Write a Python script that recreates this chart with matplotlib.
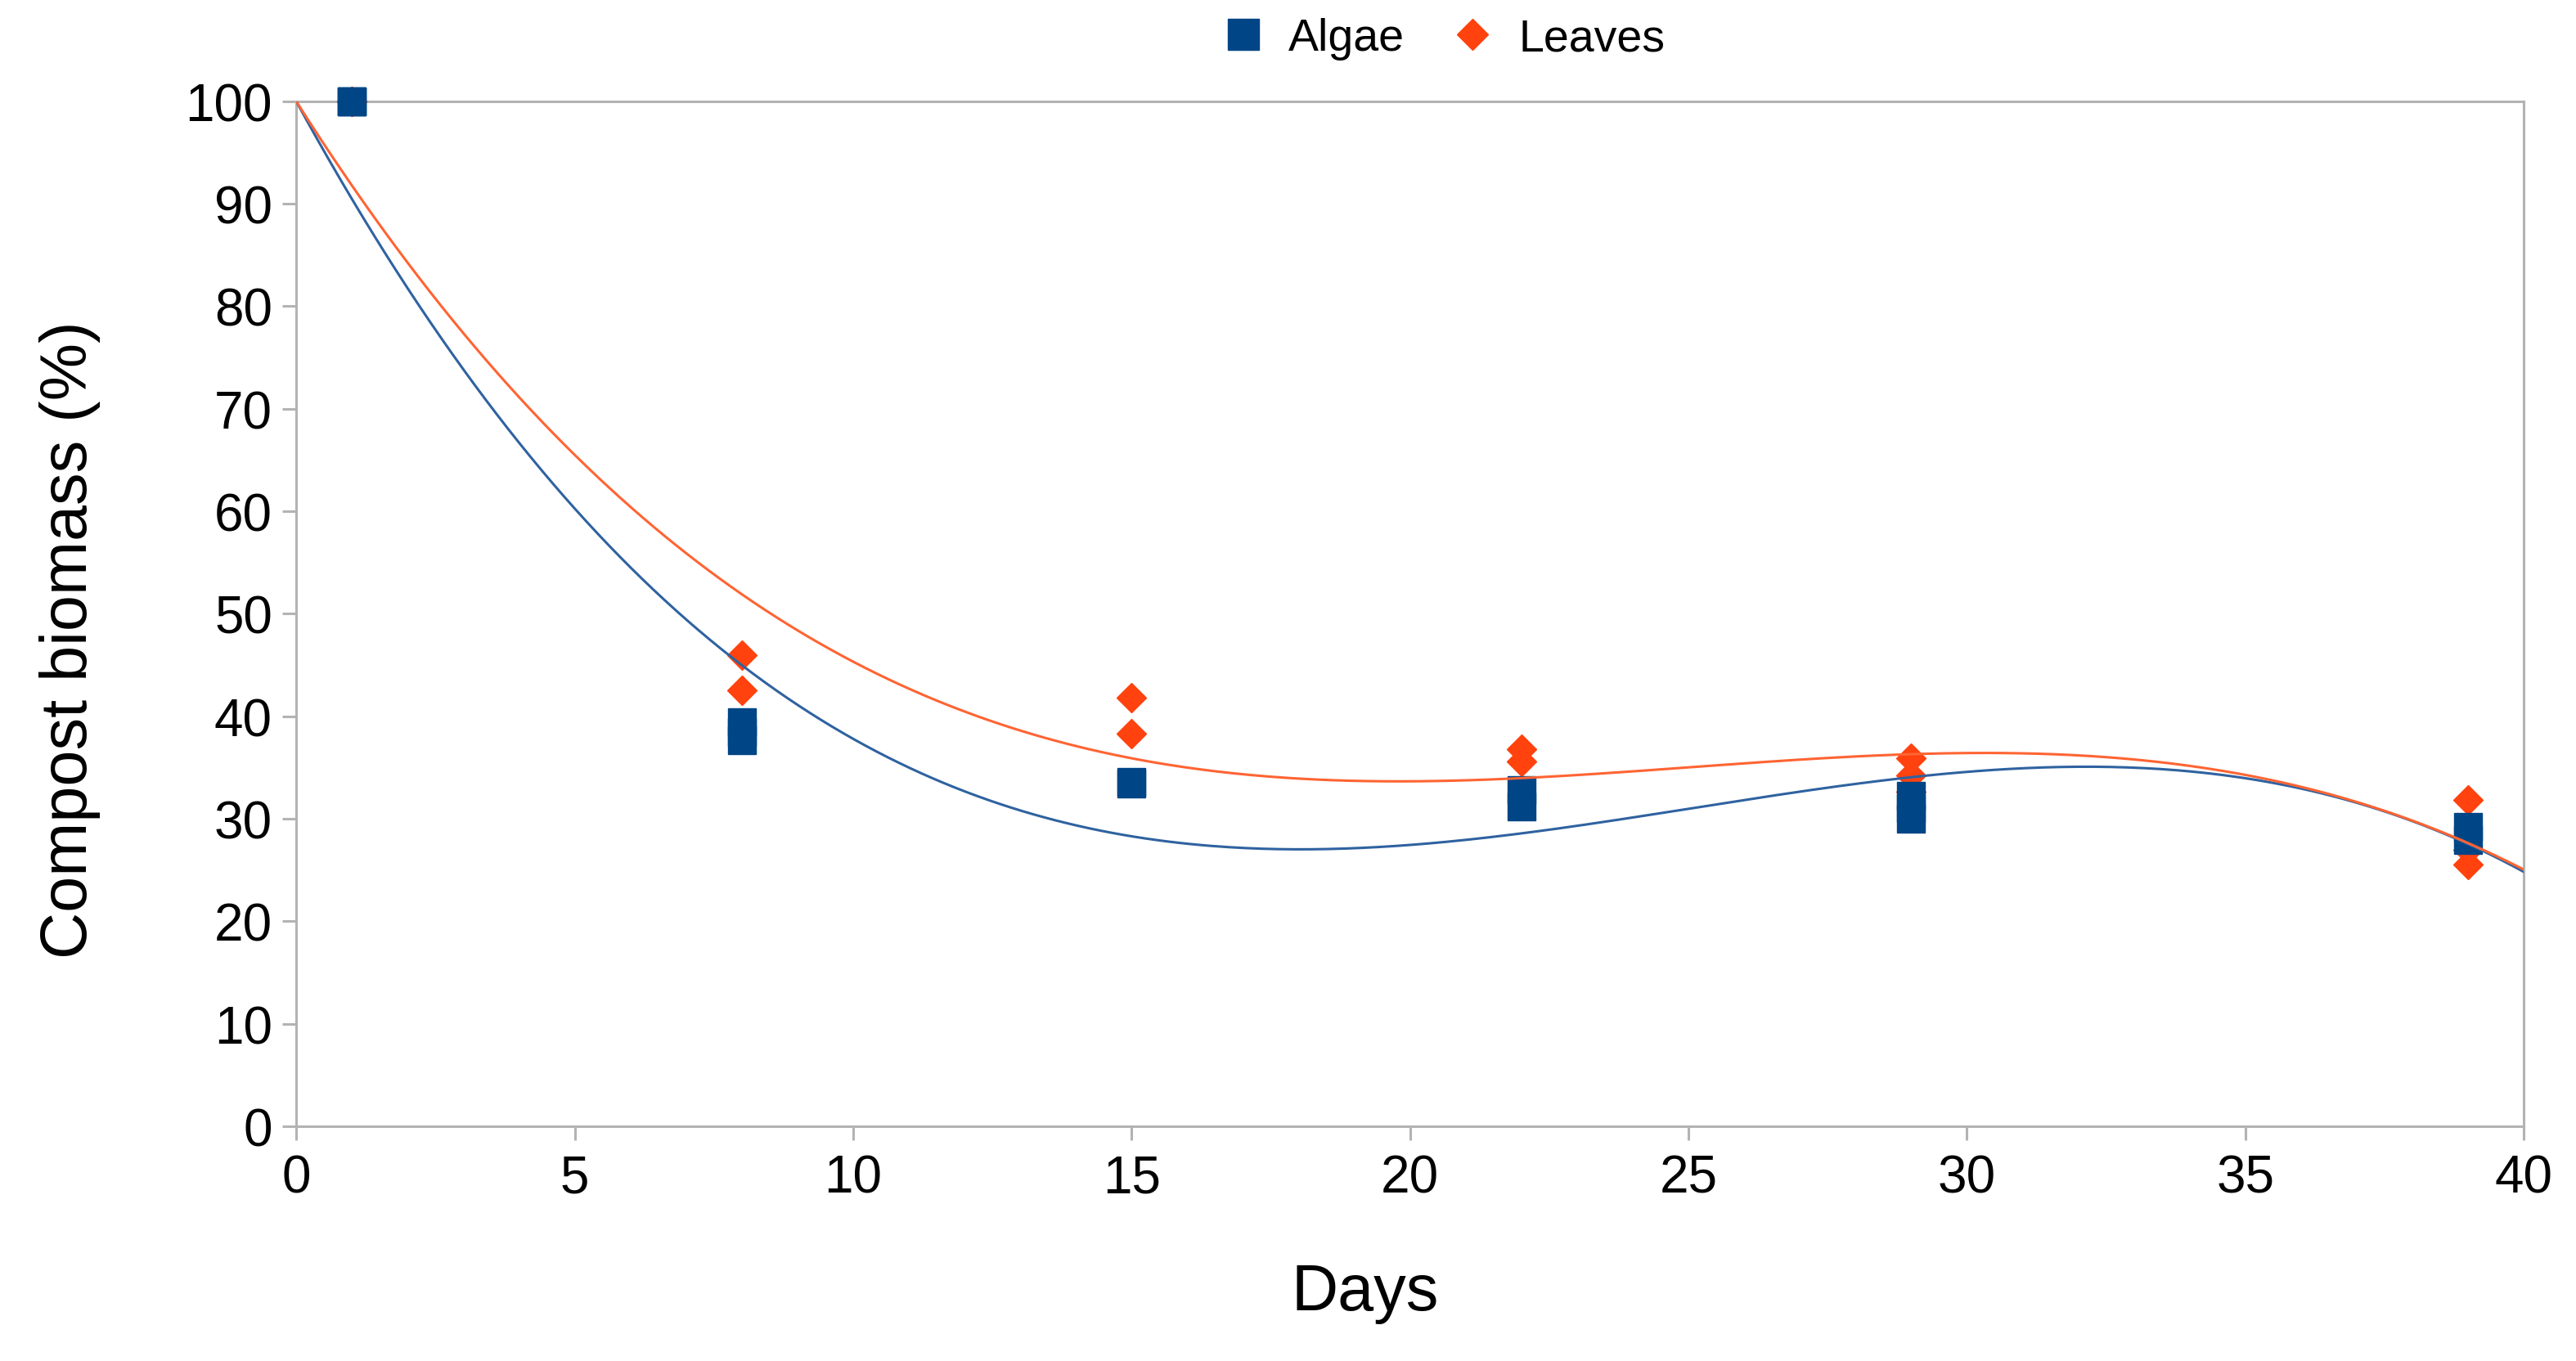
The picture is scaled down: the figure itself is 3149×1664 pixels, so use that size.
import numpy as np
import matplotlib.pyplot as plt
from matplotlib.lines import Line2D

plt.rcParams['font.family'] = ['Liberation Sans', 'DejaVu Sans']

# --- data (replicates per sampling day) ---
algae_days = [1, 1, 1, 8, 8, 8, 15, 15, 22, 22, 29, 29, 29, 39, 39]
algae_vals = [100, 100, 100, 39.4, 38.5, 37.7, 33.6, 33.4, 32.8, 31.2, 32.2, 31.0, 30.0, 29.2, 27.9]

leaves_days = [1, 1, 1, 8, 8, 15, 15, 22, 22, 29, 29, 29, 39, 39, 39]
leaves_vals = [100, 100, 100, 46.0, 42.5, 41.8, 38.3, 36.8, 35.6, 35.9, 34.2, 32.6, 31.8, 27.0, 25.5]

x_ticks = [0, 5, 10, 15, 20, 25, 30, 35, 40]
y_ticks = [0, 10, 20, 30, 40, 50, 60, 70, 80, 90, 100]

BLUE = '#004586'
ORANGE = '#ff420e'
BLUE_LINE = '#2f62a0'
ORANGE_LINE = '#ff6433'
GRAY = '#b3b3b3'


def trend(days, vals, intercept=100.0):
    # cubic polynomial trendline with forced intercept (spreadsheet style)
    x = np.asarray(days, float)
    y = np.asarray(vals, float) - intercept
    A = np.column_stack([x, x ** 2, x ** 3])
    coef, *_ = np.linalg.lstsq(A, y, rcond=None)
    xs = np.linspace(0, 40, 400)
    ys = intercept + coef[0] * xs + coef[1] * xs ** 2 + coef[2] * xs ** 3
    return xs, ys


fig = plt.figure(figsize=(31.49, 16.65), dpi=100)
ax = fig.add_axes([0.115, 0.1724, 0.8647, 0.7526])

ax.plot(leaves_days, leaves_vals, linestyle='none', marker='D', ms=18,
        color=ORANGE, mec=ORANGE, zorder=3, clip_on=False)
ax.plot(algae_days, algae_vals, linestyle='none', marker='s', ms=25,
        color=BLUE, mec=BLUE, zorder=4, clip_on=False)

xs, ys = trend(algae_days, algae_vals)
ax.plot(xs, ys, color=BLUE_LINE, lw=2.2, zorder=5)
xs, ys = trend(leaves_days, leaves_vals)
ax.plot(xs, ys, color=ORANGE_LINE, lw=2.2, zorder=5)

ax.set_xlim(0, 40)
ax.set_ylim(0, 100)
ax.set_xticks(x_ticks)
ax.set_yticks(y_ticks)
ax.tick_params(axis='both', direction='out', length=12, width=2.2, color=GRAY,
               labelsize=46, labelcolor='black')
ax.tick_params(axis='x', pad=12)
ax.tick_params(axis='y', pad=9)
for s in ax.spines.values():
    s.set_color(GRAY)
    s.set_linewidth(2.2)

fig.text(0.027, 0.53, 'Compost biomass (%)', rotation=90, ha='center', va='center',
         fontsize=57)
fig.text(0.530, 0.050, 'Days', ha='center', va='center', fontsize=57)

handles = [Line2D([], [], linestyle='none', marker='s', ms=27, color=BLUE),
           Line2D([], [], linestyle='none', marker='D', ms=19, color=ORANGE)]
fig.legend(handles, ['Algae', 'Leaves'], loc='center', bbox_to_anchor=(0.560, 0.971),
           ncol=2, frameon=False, fontsize=40, handletextpad=0.5, columnspacing=1.0,
           handlelength=1.0)

fig.savefig('out.png', dpi=100)
